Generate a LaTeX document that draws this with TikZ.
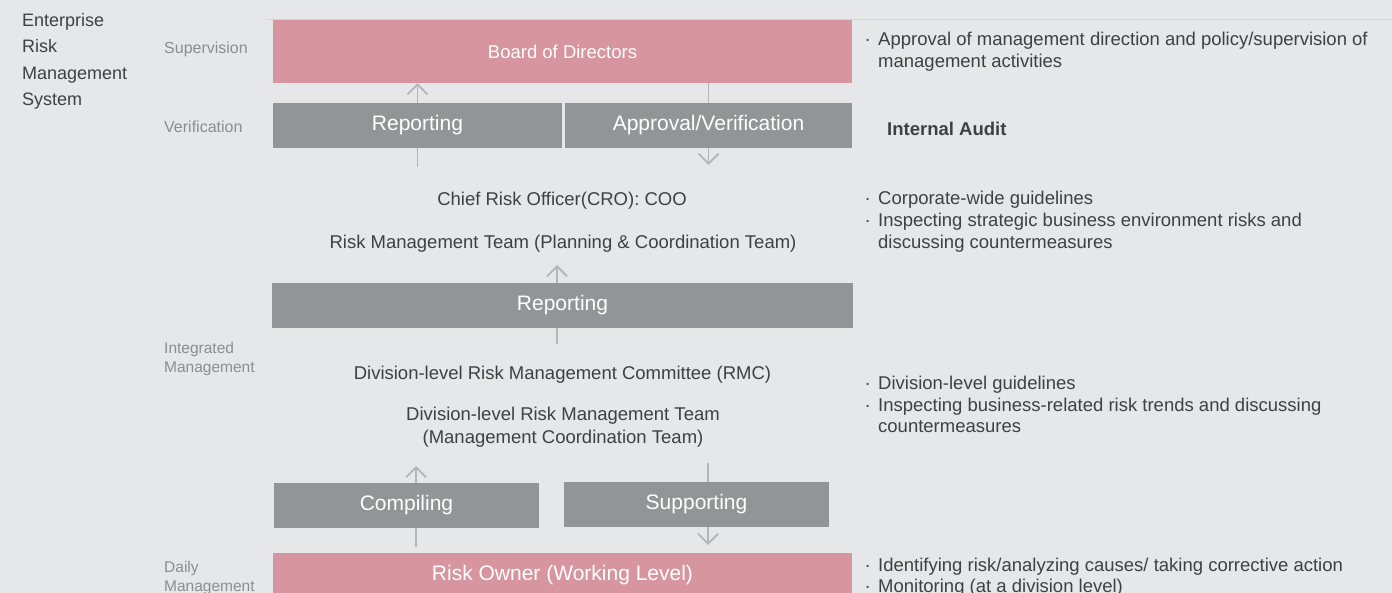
\documentclass[tikz,border=0pt]{standalone}
\usepackage{fontspec}
\setmainfont{Liberation Sans}
\usepackage{tikz}
\usetikzlibrary{arrows.meta,positioning,calc}
\definecolor{bgpanel}{RGB}{230,231,233}
\definecolor{rulegray}{RGB}{212,213,215}
\definecolor{boardpink}{RGB}{214,149,159}
\definecolor{boxgray}{RGB}{147,148,151}
\definecolor{linkgray}{RGB}{180,181,183}
\definecolor{textdark}{RGB}{64,64,66}
\definecolor{sidegray}{RGB}{140,141,143}
\newcommand{\fs}[2]{\fontsize{#1}{#2}\selectfont}
\newcommand{\bul}{\makebox[13.5pt][l]{·}}

\begin{document}
\begin{tikzpicture}[x=1pt,y=-1pt,
  pinkbox/.style={fill=boardpink,text=white,inner sep=0pt},
  graybox/.style={fill=boxgray,text=white,inner sep=0pt,minimum height=45pt,font=\fs{21}{25}},
  link/.style={draw=linkgray,line width=1.8pt},
  arrowlink/.style={link,-{Straight Barb[length=10pt,width=20pt]}},
  body/.style={text=textdark,inner sep=0pt,anchor=base,font=\fs{18.5}{22.6}},
  note/.style={text=textdark,inner sep=0pt,anchor=base west,align=left,font=\fs{18.5}{21.8}},
  side/.style={text=sidegray,inner sep=0pt,anchor=base west,align=left}]
  \useasboundingbox (0,0) rectangle (1392,593);
  \fill[bgpanel] (0,0) rectangle (1392,593);
  \draw[rulegray,line width=1pt] (266,19.5) -- (1392,19.5);

  \node[text=textdark,inner sep=0pt,anchor=base west,align=left,font=\fs{18}{26.5}] (erm) at (22,106)
    {Enterprise\\Risk\\Management\\System};
  \node[side,font=\fs{16}{19}] (supv) at (164,53.5) {Supervision};
  \node[side,font=\fs{16}{19}] (verif) at (164,132.7) {Verification};
  \node[side,font=\fs{15.5}{18.3}] (integ) at (164,372.3) {Integrated\\Management};
  \node[side,font=\fs{15.5}{19}] (daily) at (164,591.7) {Daily\\Management};

  \node[pinkbox,minimum width=579pt,minimum height=63pt,font=\fs{18.5}{22}] (board) at (562.5,51.5) {Board of Directors};
  \node[graybox,minimum width=289pt] (rep1) at (417.5,125.5) {Reporting};
  \node[graybox,minimum width=287pt] (approv) at (708.5,125.5) {Approval/Verification};
  \node[body] (cro) at (562,206) {Chief Risk Officer(CRO): COO};
  \node[body] (rmteam) at (563,248.7) {Risk Management Team (Planning \& Coordination Team)};
  \node[graybox,minimum width=581pt] (rep2) at (562.5,305.5) {Reporting};
  \node[body] (rmc) at (562.5,380) {Division-level Risk Management Committee (RMC)};
  \node[body,align=center] (divteam) at (563,443.3) {Division-level Risk Management Team\\(Management Coordination Team)};
  \node[graybox,minimum width=265pt] (compile) at (406.5,505.5) {Compiling};
  \node[graybox,minimum width=265pt] (support) at (696.5,504.5) {Supporting};
  \node[pinkbox,minimum width=579pt,minimum height=44pt,font=\fs{21}{25}] (owner) at (562.5,575) {Risk Owner (Working Level)};

  \coordinate (a1) at (417.5,167);
  \coordinate (a2) at (708.5,165);
  \coordinate (a3) at (557,265);
  \coordinate (a4) at (557,344);
  \coordinate (a5) at (416,466);
  \coordinate (a6) at (416,547);
  \coordinate (a7) at (708,463);
  \coordinate (a8) at (708,545);
  \draw[link] (a1) -- (rep1.south);
  \draw[arrowlink] (rep1.north) -- (rep1.north |- board.south);
  \draw[link] (approv.north |- board.south) -- (approv.north);
  \draw[arrowlink] (approv.south) -- (a2);
  \draw[link] (a4) -- (a4 |- rep2.south);
  \draw[arrowlink] (a3 |- rep2.north) -- (a3);
  \draw[link] (a6) -- (a6 |- compile.south);
  \draw[arrowlink] (a5 |- compile.north) -- (a5);
  \draw[link] (a7) -- (a7 |- support.north);
  \draw[arrowlink] (a8 |- support.south) -- (a8);

  \node[note] (n1) at (864.5,67.8) {\bul Approval of management direction and policy/supervision of\\\hspace*{13.5pt}management activities};
  \node[note,font=\bfseries\fs{18.5}{22}] (audit) at (887,136) {Internal Audit};
  \node[note] (n2) at (864.5,248.6) {\bul Corporate-wide guidelines\\\bul Inspecting strategic business environment risks and\\\hspace*{13.5pt}discussing countermeasures};
  \node[note] (n3) at (864.5,432.9) {\bul Division-level guidelines\\\bul Inspecting business-related risk trends and discussing\\\hspace*{13.5pt}countermeasures};
  \node[note] (n4) at (864.5,592.8) {\bul Identifying risk/analyzing causes/ taking corrective action\\\bul Monitoring (at a division level)};
\end{tikzpicture}
\end{document}
